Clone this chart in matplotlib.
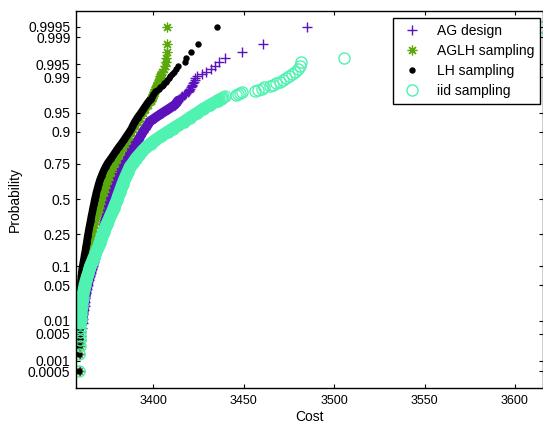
import numpy as np
import matplotlib
matplotlib.use("Agg")
import matplotlib.pyplot as plt
from statistics import NormalDist

plt.rcParams['font.family'] = ['Liberation Sans', 'DejaVu Sans']

# probability levels (plotting positions) read for the dense part of the curves
p_body = [0.0005, 0.0015, 0.0025, 0.0035, 0.0045, 0.0055, 0.007, 0.009, 0.011, 0.014,
          0.017, 0.021, 0.025, 0.03, 0.036, 0.043, 0.05, 0.06, 0.07, 0.08, 0.09,
          0.1, 0.115, 0.13, 0.145, 0.16, 0.18, 0.2, 0.22, 0.24,
          0.265, 0.29, 0.315, 0.34, 0.37, 0.4, 0.43, 0.46, 0.49,
          0.52, 0.55, 0.58, 0.61, 0.64, 0.67, 0.7, 0.73,
          0.755, 0.78, 0.8, 0.82, 0.84, 0.855, 0.87, 0.885, 0.9,
          0.91, 0.92, 0.93, 0.94, 0.95, 0.957, 0.964, 0.97]

# upper tail, one point per rank
p_tail = [0.9705, 0.9715, 0.9725, 0.9735, 0.9745, 0.9755, 0.9765, 0.9775, 0.9785, 0.9795,
          0.9805, 0.9815, 0.9825, 0.9835, 0.9845, 0.9855, 0.9865, 0.9875, 0.9885, 0.9895,
          0.9905, 0.9915, 0.9925, 0.9935, 0.9945, 0.9955, 0.9965, 0.9975, 0.9985, 0.9995]

# AG design
ag_body = [3359.5, 3359.6, 3359.7, 3359.9, 3360.1, 3360.3, 3360.6, 3360.9, 3361.1, 3361.4,
           3361.7, 3362.0, 3362.2, 3362.5, 3363.0, 3363.3, 3363.9, 3364.4, 3365.1, 3365.7, 3366.2,
           3366.7, 3367.4, 3368.0, 3368.6, 3369.1, 3369.8, 3370.4, 3370.9, 3371.3,
           3371.9, 3372.5, 3372.9, 3373.3, 3373.8, 3374.4, 3374.9, 3375.5, 3376.1,
           3376.6, 3377.2, 3377.9, 3378.7, 3379.5, 3380.5, 3381.6, 3383.0,
           3384.1, 3385.7, 3386.7, 3387.7, 3388.8, 3389.9, 3391.8, 3392.9, 3394.3,
           3395.4, 3396.8, 3397.9, 3401.2, 3405.1, 3408.4, 3412.0, 3413.8]
ag_tail = [3413.9, 3414.4, 3414.8, 3415.2, 3415.6, 3416.1, 3416.8, 3417.5, 3418.2, 3419.2,
           3419.6, 3420.0, 3420.5, 3421.0, 3421.4, 3421.7, 3422.1, 3422.5, 3422.9, 3423.2,
           3424.4, 3426.7, 3429.1, 3431.9, 3434.4, 3436.3, 3439.6, 3448.9, 3460.5, 3485.2]

# AGLH sampling
aglh_body = [3359.2, 3359.2, 3359.3, 3359.3, 3359.4, 3359.4, 3359.4, 3359.5, 3359.5, 3359.5,
             3359.6, 3359.6, 3359.6, 3359.7, 3359.9, 3360.0, 3360.2, 3360.5, 3360.8, 3361.1, 3361.5,
             3361.8, 3362.3, 3362.8, 3363.2, 3363.7, 3364.2, 3364.7, 3365.2, 3365.7,
             3366.2, 3366.8, 3367.3, 3367.9, 3368.5, 3369.2, 3369.9, 3370.5, 3371.2,
             3371.9, 3372.6, 3373.3, 3374.0, 3374.8, 3375.7, 3376.6, 3377.7,
             3378.8, 3379.9, 3381.0, 3382.1, 3383.4, 3384.4, 3385.5, 3386.6, 3387.9,
             3388.8, 3389.9, 3391.3, 3392.6, 3394.3, 3395.7, 3397.1, 3398.5]
aglh_tail = [3398.5, 3398.7, 3399.0, 3399.3, 3399.5, 3399.6, 3399.8, 3400.1, 3400.2, 3400.4,
             3400.7, 3400.9, 3401.2, 3401.5, 3401.9, 3402.2, 3402.6, 3402.9, 3403.2, 3403.7,
             3404.0, 3404.5, 3405.1, 3405.9, 3406.5, 3407.0, 3407.3, 3407.6, 3407.7, 3407.7]

# LH sampling
lh_body = [3359.2, 3359.2, 3359.2, 3359.3, 3359.4, 3359.4, 3359.5, 3359.5, 3359.5, 3359.5,
           3359.6, 3359.6, 3359.6, 3359.7, 3359.7, 3359.9, 3360.0, 3360.1, 3360.3, 3360.5, 3360.7,
           3361.0, 3361.4, 3361.8, 3362.1, 3362.5, 3362.8, 3363.2, 3363.5, 3363.8,
           3364.2, 3364.6, 3365.0, 3365.4, 3365.8, 3366.3, 3366.7, 3367.2, 3367.6,
           3368.1, 3368.6, 3369.2, 3369.8, 3370.5, 3371.4, 3372.4, 3373.6,
           3374.9, 3376.6, 3378.0, 3379.4, 3381.0, 3382.4, 3383.8, 3385.2, 3386.8,
           3387.9, 3388.8, 3389.9, 3391.3, 3393.2, 3394.6, 3396.2, 3397.9]
lh_tail = [3398.2, 3398.5, 3398.7, 3398.9, 3399.2, 3399.4, 3399.7, 3400.1, 3400.4, 3400.7,
           3401.2, 3401.8, 3403.2, 3404.0, 3404.7, 3405.4, 3406.2, 3406.9, 3407.7, 3408.6,
           3409.5, 3410.6, 3411.6, 3412.7, 3413.5, 3417.7, 3418.1, 3420.8, 3424.9, 3435.1]

# iid sampling
iid_body = [3359.2, 3359.2, 3359.3, 3359.4, 3359.5, 3359.5, 3359.6, 3359.7, 3359.9, 3360.0,
            3360.2, 3360.4, 3360.6, 3360.9, 3361.2, 3361.7, 3362.1, 3362.8, 3363.5, 3364.2, 3364.7,
            3365.2, 3366.2, 3367.0, 3367.9, 3368.6, 3369.6, 3370.3, 3371.0, 3371.6,
            3372.5, 3373.4, 3374.3, 3375.2, 3376.2, 3377.2, 3378.1, 3379.0, 3379.9,
            3380.6, 3381.4, 3382.2, 3383.0, 3383.9, 3384.9, 3386.0, 3387.1,
            3388.8, 3390.4, 3392.1, 3394.0, 3396.2, 3398.5, 3401.2, 3404.3, 3407.9,
            3410.7, 3413.7, 3417.0, 3420.3, 3424.4, 3427.5, 3431.6, 3435.8]
iid_tail = [3436.0, 3436.5, 3437.2, 3437.8, 3438.5, 3439.5, 3446.0, 3447.0, 3448.0, 3449.0,
            3456.2, 3457.9, 3460.1, 3461.2, 3464.5, 3466.2, 3467.8, 3470.1, 3471.7, 3473.4,
            3475.0, 3476.7, 3478.4, 3480.0, 3481.1, 3481.7, 3505.4, 3540.0, 3575.0, 3615.0]

prob_ticks = [0.0005, 0.001, 0.005, 0.01, 0.05, 0.1, 0.25, 0.5,
              0.75, 0.9, 0.95, 0.99, 0.995, 0.999, 0.9995]
prob_labels = ['0.0005', '0.001', '0.005', '0.01', '0.05', '0.1', '0.25', '0.5',
               '0.75', '0.9', '0.95', '0.99', '0.995', '0.999', '0.9995']
cost_ticks = [3400, 3450, 3500, 3550, 3600]

# normal probability scale
nd = NormalDist()
_ppf = np.vectorize(nd.inv_cdf, otypes=[float])
_cdf = np.vectorize(nd.cdf, otypes=[float])

def fwd(p):
    p = np.clip(np.asarray(p, dtype=float), 1e-12, 1 - 1e-12)
    return _ppf(p)

def inv(z):
    return _cdf(np.asarray(z, dtype=float))

fig = plt.figure(figsize=(5.43, 4.24), dpi=100)
ax = fig.add_axes([0.14, 0.085, 0.86, 0.889])
ax.set_yscale('function', functions=(fwd, inv))

asterisk = (8, 2, 0)
series = [
    ('AG design', ag_body, ag_tail, '#5b12bd', 7.0,
     dict(marker='+', ms=7.5, mew=1.0)),
    ('AGLH sampling', aglh_body, aglh_tail, '#5aa80a', 5.5,
     dict(marker=asterisk, ms=7, mew=0.9)),
    ('LH sampling', lh_body, lh_tail, 'black', 5.5,
     dict(marker='o', ms=4.6, mew=0)),
    ('iid sampling', iid_body, iid_tail, '#4ff2b0', 9.0,
     dict(marker='o', ms=8, mew=1.0, mfc='none')),
]

# the dense middle of each curve (1000 samples) reads as a solid band
band = (np.array(p_body) >= 0.009)
for name, body, tail, col, bw, st in series:
    b = np.array(body)
    ax.plot(b[band], np.array(p_body)[band], color=col, lw=bw,
            solid_capstyle='round', solid_joinstyle='round')
    ax.plot(body + tail, p_body + p_tail, linestyle='none', color=col, label=name, **st)

ax.set_xlim(3357.3, 3615.5)
ax.set_ylim(nd.cdf(-3.607), nd.cdf(3.59))
ax.set_xticks(cost_ticks)
ax.set_yticks(prob_ticks)
ax.set_yticklabels(prob_labels)
ax.yaxis.set_minor_locator(matplotlib.ticker.NullLocator())
ax.xaxis.set_minor_locator(matplotlib.ticker.NullLocator())
ax.tick_params(direction='in', length=3, width=0.8, top=True, right=True,
               labelsize=10, pad=4, colors='black')
ax.tick_params(axis='x', labelsize=9, pad=5)
for s in ax.spines.values():
    s.set_linewidth(1.0)

ax.set_xlabel('Cost', fontsize=10)
ax.set_ylabel('Probability', fontsize=10)
ax.xaxis.set_label_coords(0.5, -0.077)
ax.xaxis.label.set_verticalalignment('center')
ax.yaxis.set_label_coords(-0.131, 0.5)
ax.yaxis.label.set_verticalalignment('center')

leg = ax.legend(loc='upper right', bbox_to_anchor=(0.9936, 0.9814), borderaxespad=0,
                numpoints=1, fancybox=False, framealpha=1, edgecolor='black',
                fontsize=10, handlelength=2.0, handletextpad=0.8, labelspacing=0.45,
                borderpad=0.4)
leg.get_frame().set_linewidth(1.0)

fig.savefig('out.png', dpi=100)
